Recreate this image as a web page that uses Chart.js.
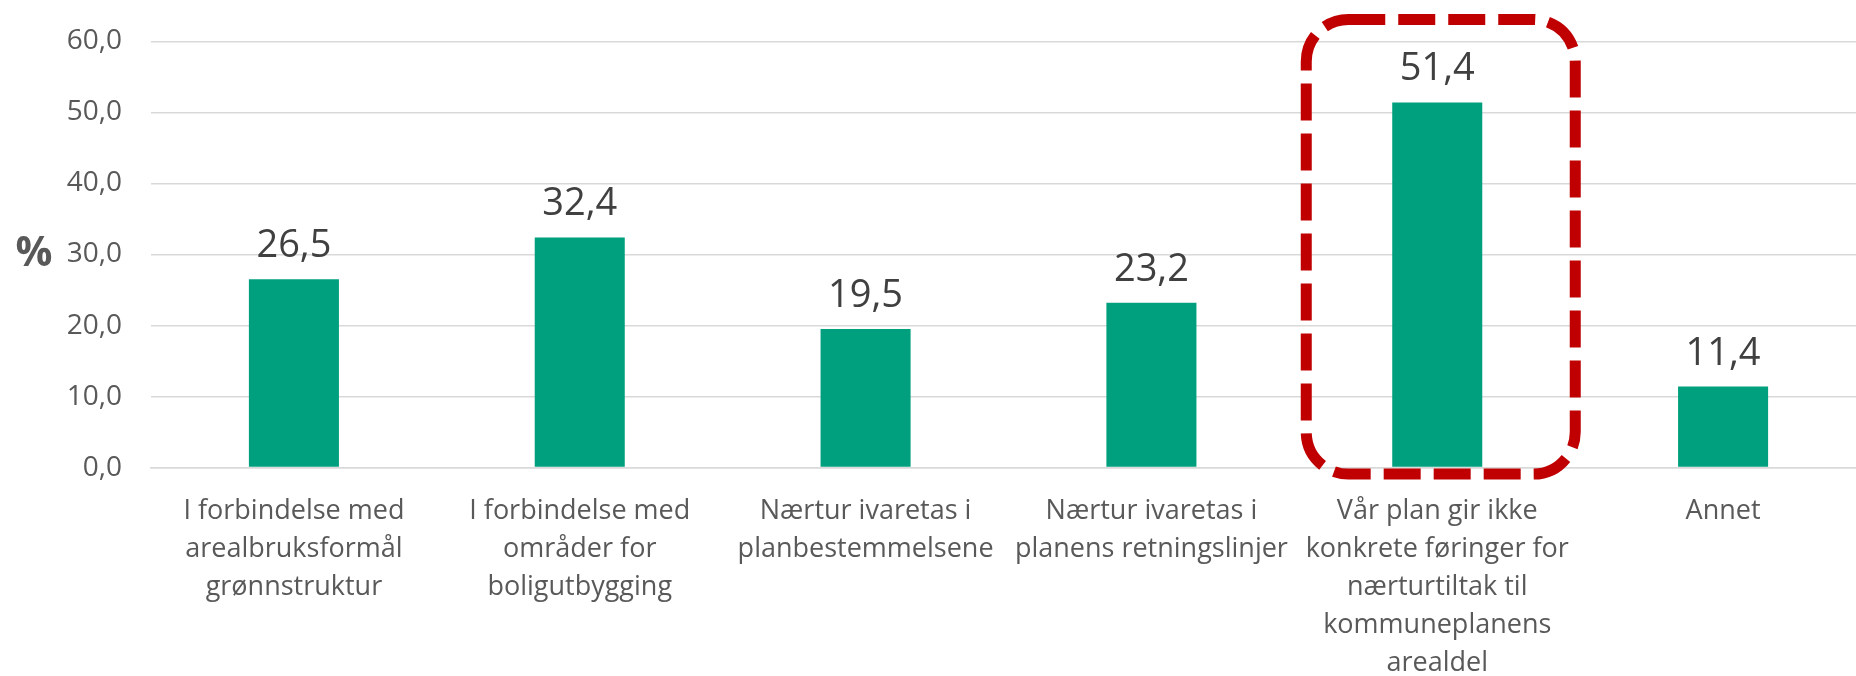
<!DOCTYPE html>
<html>
<head>
<meta charset="utf-8">
<script src="https://cdn.jsdelivr.net/npm/chart.js@4"></script>
<style>
  html, body { margin: 0; padding: 0; background: #fff; overflow: hidden; }
  #wrap { width: 1866px; height: 676px; position: relative; }
</style>
</head>
<body>
<div id="wrap"><canvas id="chart"></canvas></div>
<script>
// data
const categories = [
  ['I forbindelse med', 'arealbruksformål', 'grønnstruktur'],
  ['I forbindelse med', 'områder for', 'boligutbygging'],
  ['Nærtur ivaretas i', 'planbestemmelsene'],
  ['Nærtur ivaretas i', 'planens retningslinjer'],
  ['Vår plan gir ikke', 'konkrete føringer for', 'nærturtiltak til', 'kommuneplanens', 'arealdel'],
  ['Annet']
];
const values = [26.5, 32.4, 19.5, 23.2, 51.4, 11.4];
const yTicks = [0, 10, 20, 30, 40, 50, 60];
const highlightIndex = 4;

const FONT = '"Open Sans", "Noto Sans", sans-serif';

function comma(v) {
  return v.toFixed(1).replace('.', ',');
}

// tall etter søylene, % til venstre og stiplet boks rundt den markerte søylen
const extrasPlugin = {
  id: 'extras',
  afterDatasetsDraw(chart) {
    const ctx = chart.ctx;
    const meta = chart.getDatasetMeta(0);
    const x = chart.scales.x;
    const y = chart.scales.y;

    ctx.save();
    ctx.fillStyle = '#404040';
    ctx.font = '38px ' + FONT;
    ctx.textAlign = 'center';
    ctx.textBaseline = 'alphabetic';
    meta.data.forEach((bar, i) => {
      ctx.fillText(comma(values[i]), bar.x, bar.y - 22);
    });

    ctx.fillStyle = '#595959';
    ctx.font = 'bold 41px ' + FONT;
    ctx.textBaseline = 'middle';
    ctx.fillText('%', 34, y.getPixelForValue(30));

    const cx = x.getPixelForValue(highlightIndex);
    const left = cx - 131;
    const right = cx + 138;
    const top = y.getPixelForValue(60) - 22;
    const bottom = y.getPixelForValue(0) + 6.5;
    ctx.strokeStyle = '#C00000';
    ctx.lineWidth = 11;
    ctx.setLineDash([37, 13]);
    ctx.beginPath();
    ctx.roundRect(left, top, right - left, bottom - top, 42);
    ctx.stroke();
    ctx.restore();
  }
};

new Chart(document.getElementById('chart'), {
  type: 'bar',
  data: {
    labels: categories,
    datasets: [{
      data: values,
      backgroundColor: '#00A07F',
      categoryPercentage: 1,
      barPercentage: 0.315
    }]
  },
  options: {
    responsive: true,
    maintainAspectRatio: false,
    animation: false,
    layout: { padding: { top: 41.4, left: 0, right: 0, bottom: 0 } },
    plugins: {
      legend: { display: false },
      tooltip: { enabled: false }
    },
    scales: {
      x: {
        grid: { display: false, drawTicks: false },
        border: { display: true, color: '#D9D9D9', width: 1.5 },
        ticks: {
          color: '#595959',
          font: { family: FONT, size: 27, lineHeight: '38px' },
          padding: 25,
          autoSkip: false,
          maxRotation: 0,
          minRotation: 0
        },
        afterFit(scale) { scale.height = 208.4; }
      },
      y: {
        min: 0,
        max: 60,
        afterBuildTicks(scale) { scale.ticks = yTicks.map(v => ({ value: v })); },
        grid: { color: '#D9D9D9', lineWidth: 1.5, drawTicks: false },
        border: { display: false },
        ticks: {
          color: '#595959',
          font: { family: FONT, size: 28 },
          padding: 29,
          callback: v => comma(v)
        },
        afterFit(scale) {
          scale.width = 151;
          scale.paddingTop = 17;
          scale.paddingBottom = 17;
        }
      }
    }
  },
  plugins: [extrasPlugin]
});
</script>
</body>
</html>
